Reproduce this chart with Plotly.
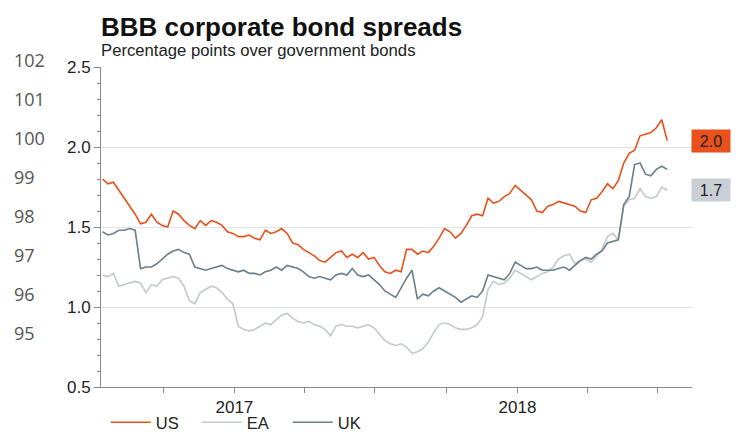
import pandas as pd
import plotly.graph_objects as go

# ---- data (weekly readings, percentage points) ----
start_date = "2016-07-15"
us = [1.80, 1.77, 1.78, 1.73, 1.68, 1.63, 1.58, 1.52, 1.53, 1.58,
      1.53, 1.51, 1.50, 1.60, 1.58, 1.54, 1.51, 1.49, 1.54, 1.51,
      1.54, 1.53, 1.51, 1.47, 1.46, 1.44, 1.44, 1.45, 1.43, 1.42,
      1.48, 1.46, 1.47, 1.49, 1.46, 1.40, 1.39, 1.36, 1.34, 1.32,
      1.29, 1.28, 1.31, 1.34, 1.35, 1.31, 1.33, 1.31, 1.34, 1.30,
      1.31, 1.26, 1.22, 1.21, 1.23, 1.22, 1.36, 1.36, 1.33, 1.35,
      1.34, 1.38, 1.43, 1.49, 1.47, 1.43, 1.46, 1.51, 1.57, 1.58,
      1.57, 1.68, 1.65, 1.66, 1.69, 1.71, 1.76, 1.73, 1.70, 1.67,
      1.60, 1.59, 1.63, 1.64, 1.66, 1.65, 1.64, 1.63, 1.60, 1.59,
      1.67, 1.68, 1.72, 1.77, 1.74, 1.79, 1.90, 1.96, 1.98, 2.07,
      2.08, 2.09, 2.12, 2.17, 2.04]
ea = [1.20, 1.19, 1.21, 1.13, 1.14, 1.15, 1.16, 1.15, 1.09, 1.14,
      1.13, 1.17, 1.18, 1.19, 1.18, 1.13, 1.04, 1.02, 1.09, 1.11,
      1.13, 1.12, 1.09, 1.05, 1.02, 0.88, 0.86, 0.85, 0.86, 0.88,
      0.90, 0.89, 0.92, 0.95, 0.96, 0.93, 0.91, 0.90, 0.91, 0.89,
      0.88, 0.86, 0.82, 0.88, 0.89, 0.88, 0.88, 0.87, 0.88, 0.89,
      0.87, 0.83, 0.79, 0.77, 0.76, 0.77, 0.75, 0.71, 0.72, 0.74,
      0.78, 0.84, 0.89, 0.90, 0.89, 0.87, 0.86, 0.86, 0.87, 0.89,
      0.94, 1.11, 1.16, 1.14, 1.15, 1.18, 1.23, 1.21, 1.19, 1.17,
      1.19, 1.21, 1.22, 1.25, 1.30, 1.32, 1.33, 1.27, 1.29, 1.30,
      1.28, 1.32, 1.36, 1.44, 1.46, 1.42, 1.63, 1.67, 1.68, 1.74,
      1.69, 1.68, 1.69, 1.75, 1.73]
uk = [1.47, 1.45, 1.46, 1.48, 1.48, 1.49, 1.48, 1.24, 1.25, 1.25,
      1.27, 1.30, 1.33, 1.35, 1.36, 1.34, 1.33, 1.25, 1.24, 1.23,
      1.24, 1.25, 1.26, 1.24, 1.23, 1.22, 1.23, 1.21, 1.21, 1.20,
      1.22, 1.23, 1.25, 1.23, 1.26, 1.25, 1.24, 1.22, 1.19, 1.18,
      1.19, 1.18, 1.17, 1.20, 1.21, 1.20, 1.24, 1.20, 1.19, 1.20,
      1.17, 1.14, 1.10, 1.08, 1.06, 1.12, 1.18, 1.23, 1.05, 1.08,
      1.07, 1.10, 1.12, 1.10, 1.08, 1.06, 1.03, 1.05, 1.07, 1.06,
      1.10, 1.20, 1.19, 1.18, 1.17, 1.21, 1.28, 1.26, 1.24, 1.24,
      1.25, 1.23, 1.23, 1.23, 1.24, 1.25, 1.23, 1.26, 1.29, 1.31,
      1.30, 1.33, 1.35, 1.40, 1.41, 1.42, 1.64, 1.69, 1.89, 1.90,
      1.83, 1.82, 1.86, 1.88, 1.86]
dates = pd.date_range(start_date, periods=len(us), freq="7D")

series_names = ["US", "EA", "UK"]
series_colors = ["#e8501c", "#c2c8cc", "#6b7f8a"]
label_fills = {"US": "#e8501c", "EA": "#c9d0d5"}
year_ticks = ["2017-01-01", "2018-01-01"]
year_labels = ["2017", "2018"]
ghost_labels = ["102", "101", "100", "99", "98", "97", "96", "95"]

title = "BBB corporate bond spreads"
subtitle = "Percentage points over government bonds"

FONT = "Liberation Sans, Arial, sans-serif"

fig = go.Figure()
for name, vals, col in zip(series_names, [us, ea, uk], series_colors):
    fig.add_trace(go.Scatter(x=dates, y=vals, mode="lines", name=name,
                             line=dict(color=col, width=1.6)))

annotations = [
    dict(text="<b>" + title + "</b>", xref="paper", yref="paper", x=-0.003, y=1.125,
         xanchor="left", yanchor="middle", showarrow=False,
         font=dict(family=FONT, size=26, color="#111")),
    dict(text=subtitle, xref="paper", yref="paper", x=-0.003, y=1.05,
         xanchor="left", yanchor="middle", showarrow=False,
         font=dict(family=FONT, size=16.7, color="#222")),
]
# end-value labels
for name, vals in zip(series_names, [us, ea, uk]):
    if name in label_fills:
        annotations.append(dict(
            text=f"{vals[-1]:.1f}", xref="paper", yref="y", x=0.998, y=vals[-1],
            xanchor="left", yanchor="middle", showarrow=False,
            bgcolor=label_fills[name], width=36, height=20, borderpad=1,
            font=dict(family=FONT, size=16, color="#222")))
# ghost axis labels at left
for i, t in enumerate(ghost_labels):
    ypx = 60 + i * 39
    annotations.append(dict(
        text=t, xref="paper", yref="paper", x=(12 - 101) / 591, y=(387 - ypx) / 320,
        xanchor="left", yanchor="middle", showarrow=False,
        font=dict(family="Open Sans, sans-serif", size=18, color="#555")))

fig.update_layout(
    width=742, height=432,
    margin=dict(l=101, r=50, t=67, b=45, autoexpand=False),
    paper_bgcolor="white", plot_bgcolor="white",
    font=dict(family=FONT, size=16, color="#222"),
    showlegend=True,
    legend=dict(orientation="h", x=0.008, xanchor="left",
                yref="container", y=0.022, yanchor="middle",
                font=dict(family=FONT, size=16.5, color="#222"),
                itemwidth=40, entrywidth=36, bgcolor="rgba(0,0,0,0)"),
    annotations=annotations,
    xaxis=dict(
        range=["2016-07-13", "2018-08-14"],
        tickvals=year_ticks, ticktext=year_labels,
        showgrid=False, zeroline=False,
        showline=True, linecolor="#8a8a8a", linewidth=1,
        ticks="outside", ticklen=5, tickcolor="#8a8a8a",
        tickfont=dict(family=FONT, size=17, color="#222"),
        minor=dict(dtick="M3", tick0="2016-01-01", ticks="outside", ticklen=5,
                   tickcolor="#8a8a8a", showgrid=False),
    ),
    yaxis=dict(
        range=[0.5, 2.5], dtick=0.5, tick0=0.5, tickformat=".1f",
        showgrid=True, gridcolor="#e2e2e2", gridwidth=1, zeroline=False,
        showline=True, linecolor="#8a8a8a", linewidth=1,
        ticks="outside", ticklen=6, tickcolor="#8a8a8a",
        tickfont=dict(family=FONT, size=17, color="#222"),
        minor=dict(dtick=0.1, ticks="outside", ticklen=3, tickcolor="#8a8a8a",
                   showgrid=False),
    ),
)

fig.write_html("out.html")
